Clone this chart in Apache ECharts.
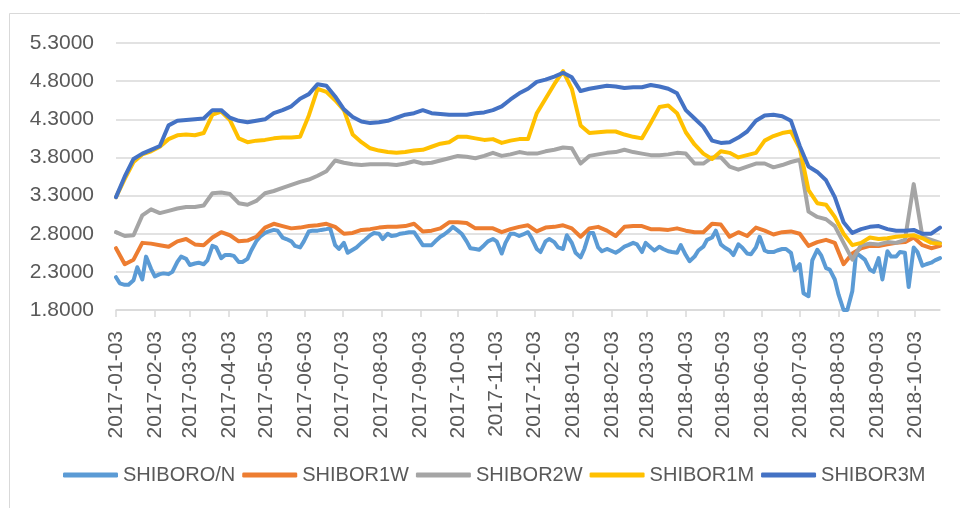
<!DOCTYPE html>
<html>
<head>
<meta charset="utf-8">
<script src="https://cdn.jsdelivr.net/npm/echarts/dist/echarts.min.js"></script>
<style>
html,body{margin:0;padding:0;background:#fff;}
#c{width:960px;height:508px;}
</style>
</head>
<body>
<div id="c"></div>
<script>
// Weekly sample dates (Tuesdays)
const dates = ['2017-01-03','2017-01-10','2017-01-17','2017-01-24','2017-01-31','2017-02-07','2017-02-14','2017-02-21','2017-02-28','2017-03-07','2017-03-14','2017-03-21','2017-03-28','2017-04-04','2017-04-11','2017-04-18','2017-04-25','2017-05-02','2017-05-09','2017-05-16','2017-05-23','2017-05-30','2017-06-06','2017-06-13','2017-06-20','2017-06-27','2017-07-04','2017-07-11','2017-07-18','2017-07-25','2017-08-01','2017-08-08','2017-08-15','2017-08-22','2017-08-29','2017-09-05','2017-09-12','2017-09-19','2017-09-26','2017-10-03','2017-10-10','2017-10-17','2017-10-24','2017-10-31','2017-11-07','2017-11-14','2017-11-21','2017-11-28','2017-12-05','2017-12-12','2017-12-19','2017-12-26',
'2018-01-02','2018-01-09','2018-01-16','2018-01-23','2018-01-30','2018-02-06','2018-02-13','2018-02-20','2018-02-27','2018-03-06','2018-03-13','2018-03-20','2018-03-27','2018-04-03','2018-04-10','2018-04-17','2018-04-24','2018-05-01','2018-05-08','2018-05-15','2018-05-22','2018-05-29','2018-06-05','2018-06-12','2018-06-19','2018-06-26','2018-07-03','2018-07-10','2018-07-17','2018-07-24','2018-07-31','2018-08-07','2018-08-14','2018-08-21','2018-08-28','2018-09-04','2018-09-11','2018-09-18','2018-09-25','2018-10-02','2018-10-09','2018-10-16','2018-10-23'];

// Extra mid-week sample dates (Fridays) for the overnight rate
const friDates = ['2017-01-06','2017-01-13','2017-01-20','2017-01-27','2017-02-03','2017-02-10','2017-02-17','2017-02-24','2017-03-03','2017-03-10','2017-03-17','2017-03-24','2017-03-31','2017-04-07','2017-04-14','2017-04-21','2017-04-28','2017-05-05','2017-05-12','2017-05-19','2017-05-26','2017-06-02','2017-06-09','2017-06-16','2017-06-23','2017-06-30','2017-07-07','2017-07-14','2017-07-21','2017-07-28','2017-08-04','2017-08-11','2017-08-18','2017-08-25','2017-09-01','2017-09-08','2017-09-15','2017-09-22','2017-09-29','2017-10-06','2017-10-13','2017-10-20','2017-10-27','2017-11-03','2017-11-10','2017-11-17','2017-11-24','2017-12-01','2017-12-08','2017-12-15','2017-12-22','2017-12-29',
'2018-01-05','2018-01-12','2018-01-19','2018-01-26','2018-02-02','2018-02-09','2018-02-16','2018-02-23','2018-03-02','2018-03-09','2018-03-16','2018-03-23','2018-03-30','2018-04-06','2018-04-13','2018-04-20','2018-04-27','2018-05-04','2018-05-11','2018-05-18','2018-05-25','2018-06-01','2018-06-08','2018-06-15','2018-06-22','2018-06-29','2018-07-06','2018-07-13','2018-07-20','2018-07-27','2018-08-03','2018-08-10','2018-08-17','2018-08-24','2018-08-31','2018-09-07','2018-09-14','2018-09-21','2018-09-28','2018-10-05','2018-10-12','2018-10-19'];

const seriesNames = ['SHIBORO/N','SHIBOR1W','SHIBOR2W','SHIBOR1M','SHIBOR3M'];

const onTue = [2.23,2.13,2.19,2.20,2.34,2.27,2.27,2.43,2.47,2.41,
2.40,2.64,2.48,2.52,2.43,2.47,2.70,2.81,2.85,2.75,
2.70,2.62,2.83,2.84,2.86,2.65,2.68,2.59,2.68,2.78,
2.80,2.80,2.78,2.81,2.82,2.65,2.65,2.76,2.84,2.84,
2.70,2.60,2.65,2.73,2.54,2.80,2.77,2.82,2.60,2.70,
2.69,2.60,2.68,2.49,2.81,2.62,2.60,2.55,2.63,2.68,
2.56,2.62,2.63,2.57,2.55,2.52,2.50,2.63,2.75,2.66,
2.58,2.66,2.54,2.62,2.58,2.56,2.60,2.55,2.40,1.98,
2.59,2.35,2.20,1.80,2.05,2.50,2.33,2.48,2.57,2.50,
2.55,2.62,2.38,2.42,2.48];

const onFri = [2.15,2.13,2.36,2.50,2.24,2.28,2.30,2.50,2.39,2.42,
2.45,2.62,2.52,2.51,2.43,2.58,2.76,2.83,2.84,2.73,
2.64,2.70,2.84,2.85,2.87,2.60,2.55,2.62,2.72,2.81,
2.73,2.77,2.80,2.82,2.75,2.65,2.70,2.79,2.89,2.80,
2.61,2.59,2.70,2.70,2.68,2.80,2.79,2.74,2.56,2.73,
2.62,2.78,2.55,2.60,2.81,2.57,2.58,2.58,2.65,2.66,
2.68,2.58,2.60,2.56,2.65,2.44,2.58,2.72,2.84,2.62,
2.52,2.62,2.53,2.76,2.56,2.58,2.60,2.32,2.02,2.45,
2.52,2.33,2.00,1.80,2.55,2.46,2.30,2.20,2.50,2.56,
2.10,2.56,2.40,2.45];

const w1 = [2.61,2.40,2.46,2.68,2.67,2.65,2.63,2.70,2.73,2.66,
2.65,2.75,2.82,2.78,2.70,2.71,2.76,2.88,2.93,2.90,
2.87,2.88,2.90,2.91,2.93,2.89,2.80,2.81,2.85,2.86,
2.88,2.89,2.89,2.90,2.93,2.83,2.84,2.87,2.95,2.95,
2.94,2.87,2.87,2.87,2.82,2.86,2.89,2.91,2.83,2.88,
2.89,2.91,2.87,2.76,2.87,2.89,2.84,2.77,2.89,2.90,
2.90,2.86,2.86,2.85,2.87,2.84,2.82,2.82,2.93,2.92,
2.76,2.82,2.77,2.88,2.84,2.79,2.82,2.83,2.80,2.64,
2.69,2.72,2.68,2.40,2.54,2.61,2.64,2.64,2.66,2.68,
2.69,2.75,2.65,2.61,2.64];

const w2 = [2.82,2.77,2.78,3.04,3.12,3.07,3.10,3.13,3.15,3.15,
3.17,3.33,3.34,3.32,3.20,3.18,3.23,3.33,3.36,3.40,
3.44,3.48,3.51,3.56,3.62,3.76,3.73,3.71,3.70,3.71,
3.71,3.71,3.70,3.72,3.75,3.72,3.73,3.76,3.79,3.82,
3.81,3.79,3.82,3.86,3.82,3.84,3.87,3.85,3.85,3.88,
3.90,3.93,3.92,3.72,3.82,3.84,3.86,3.87,3.90,3.87,
3.85,3.83,3.83,3.84,3.86,3.85,3.72,3.72,3.80,3.80,
3.68,3.64,3.68,3.72,3.72,3.67,3.70,3.74,3.77,3.09,
3.02,2.99,2.90,2.68,2.46,2.65,2.67,2.66,2.69,2.68,
2.72,3.45,2.76,2.72,2.68];

const m1 = [3.28,3.52,3.74,3.84,3.88,3.94,4.04,4.09,4.10,4.09,
4.12,4.36,4.40,4.29,4.05,4.00,4.02,4.03,4.05,4.06,
4.06,4.07,4.35,4.70,4.66,4.55,4.42,4.10,4.00,3.92,
3.89,3.87,3.86,3.87,3.89,3.90,3.94,3.98,4.00,4.07,
4.07,4.05,4.03,4.04,3.99,4.02,4.04,4.04,4.38,4.57,
4.76,4.93,4.70,4.22,4.12,4.13,4.14,4.14,4.10,4.07,
4.05,4.25,4.46,4.48,4.38,4.13,3.97,3.85,3.78,3.88,
3.86,3.80,3.83,3.86,4.02,4.08,4.12,4.14,3.92,3.37,
3.20,3.18,3.02,2.80,2.65,2.68,2.75,2.73,2.74,2.76,
2.77,2.78,2.74,2.68,2.67];

const m3 = [3.28,3.55,3.78,3.85,3.90,3.95,4.22,4.28,4.29,4.30,
4.31,4.42,4.42,4.32,4.28,4.26,4.28,4.30,4.38,4.42,
4.47,4.57,4.63,4.76,4.74,4.60,4.43,4.33,4.27,4.25,
4.26,4.28,4.32,4.36,4.38,4.42,4.38,4.37,4.36,4.36,
4.36,4.38,4.39,4.42,4.47,4.56,4.64,4.70,4.79,4.82,
4.86,4.91,4.85,4.67,4.70,4.72,4.74,4.73,4.71,4.72,
4.72,4.75,4.73,4.70,4.64,4.42,4.31,4.20,4.02,3.99,
4.00,4.06,4.14,4.28,4.35,4.36,4.34,4.28,3.95,3.68,
3.61,3.50,3.28,2.95,2.81,2.86,2.89,2.90,2.86,2.84,
2.84,2.85,2.80,2.80,2.88];

const yTicks = {min: 1.8, max: 5.3, step: 0.5};
const colors = ['#5b9bd5','#ed7d31','#a5a5a5','#ffc000','#4472c4'];

// Calendar-day categories for the date axis
const cats = [];
(function(){
  const start = Date.UTC(2017,0,3), end = Date.UTC(2018,9,23);
  for (let t = start; t <= end; t += 86400000) {
    const d = new Date(t);
    cats.push(d.getUTCFullYear() + '-' + String(d.getUTCMonth()+1).padStart(2,'0') + '-' + String(d.getUTCDate()).padStart(2,'0'));
  }
})();
const idx = {};
cats.forEach((c,i)=>{idx[c]=i;});

function place(pairs){
  const arr = new Array(cats.length).fill(null);
  pairs.forEach(([d,v])=>{ arr[idx[d]] = v; });
  return arr;
}
const onPairs = dates.map((d,i)=>[d,onTue[i]]).concat(friDates.map((d,i)=>[d,onFri[i]]));
const seriesData = [
  place(onPairs),
  place(dates.map((d,i)=>[d,w1[i]])),
  place(dates.map((d,i)=>[d,w2[i]])),
  place(dates.map((d,i)=>[d,m1[i]])),
  place(dates.map((d,i)=>[d,m3[i]]))
];

const FONT = 'Liberation Sans';
const isMonthTick = (i, v) => v.slice(8) === '03';

const chart = echarts.init(document.getElementById('c'), null, {renderer:'canvas'});
chart.setOption({
  animation: false,
  backgroundColor: '#fff',
  graphic: [{
    type: 'rect', silent: true,
    shape: {x: 9.5, y: 13.5, width: 960, height: 500},
    style: {fill: 'none', stroke: '#d9d9d9', lineWidth: 1}
  }],
  grid: {left: 116, right: 20, top: 43, bottom: 198},
  legend: {
    data: seriesNames,
    left: 63, top: 465, padding: 0,
    icon: 'roundRect',
    itemWidth: 55, itemHeight: 5, itemGap: 7,
    textStyle: {fontFamily: FONT, fontSize: 20, color: '#595959'}
  },
  xAxis: {
    type: 'category',
    data: cats,
    boundaryGap: false,
    axisLine: {show: true, lineStyle: {color: '#d9d9d9', width: 1.5}},
    axisTick: {show: true, interval: isMonthTick, length: 7, lineStyle: {color: '#d9d9d9', width: 1.5}},
    axisLabel: {interval: isMonthTick, rotate: 90, margin: 21, fontFamily: FONT, fontSize: 21, color: '#595959'},
    splitLine: {show: false}
  },
  yAxis: {
    type: 'value',
    min: yTicks.min, max: yTicks.max, interval: yTicks.step,
    axisLine: {show: false},
    axisTick: {show: false},
    axisLabel: {formatter: v => v.toFixed(4), margin: 22, fontFamily: FONT, fontSize: 21, color: '#595959'},
    splitLine: {lineStyle: {color: '#d9d9d9', width: 1.5}}
  },
  series: seriesNames.map((n,i)=>({
    name: n, type: 'line', data: seriesData[i],
    connectNulls: true, showSymbol: false, symbol: 'none',
    lineStyle: {width: 4, color: colors[i], join: 'round', cap: 'round'},
    itemStyle: {color: colors[i]}
  }))
});
</script>
</body>
</html>
